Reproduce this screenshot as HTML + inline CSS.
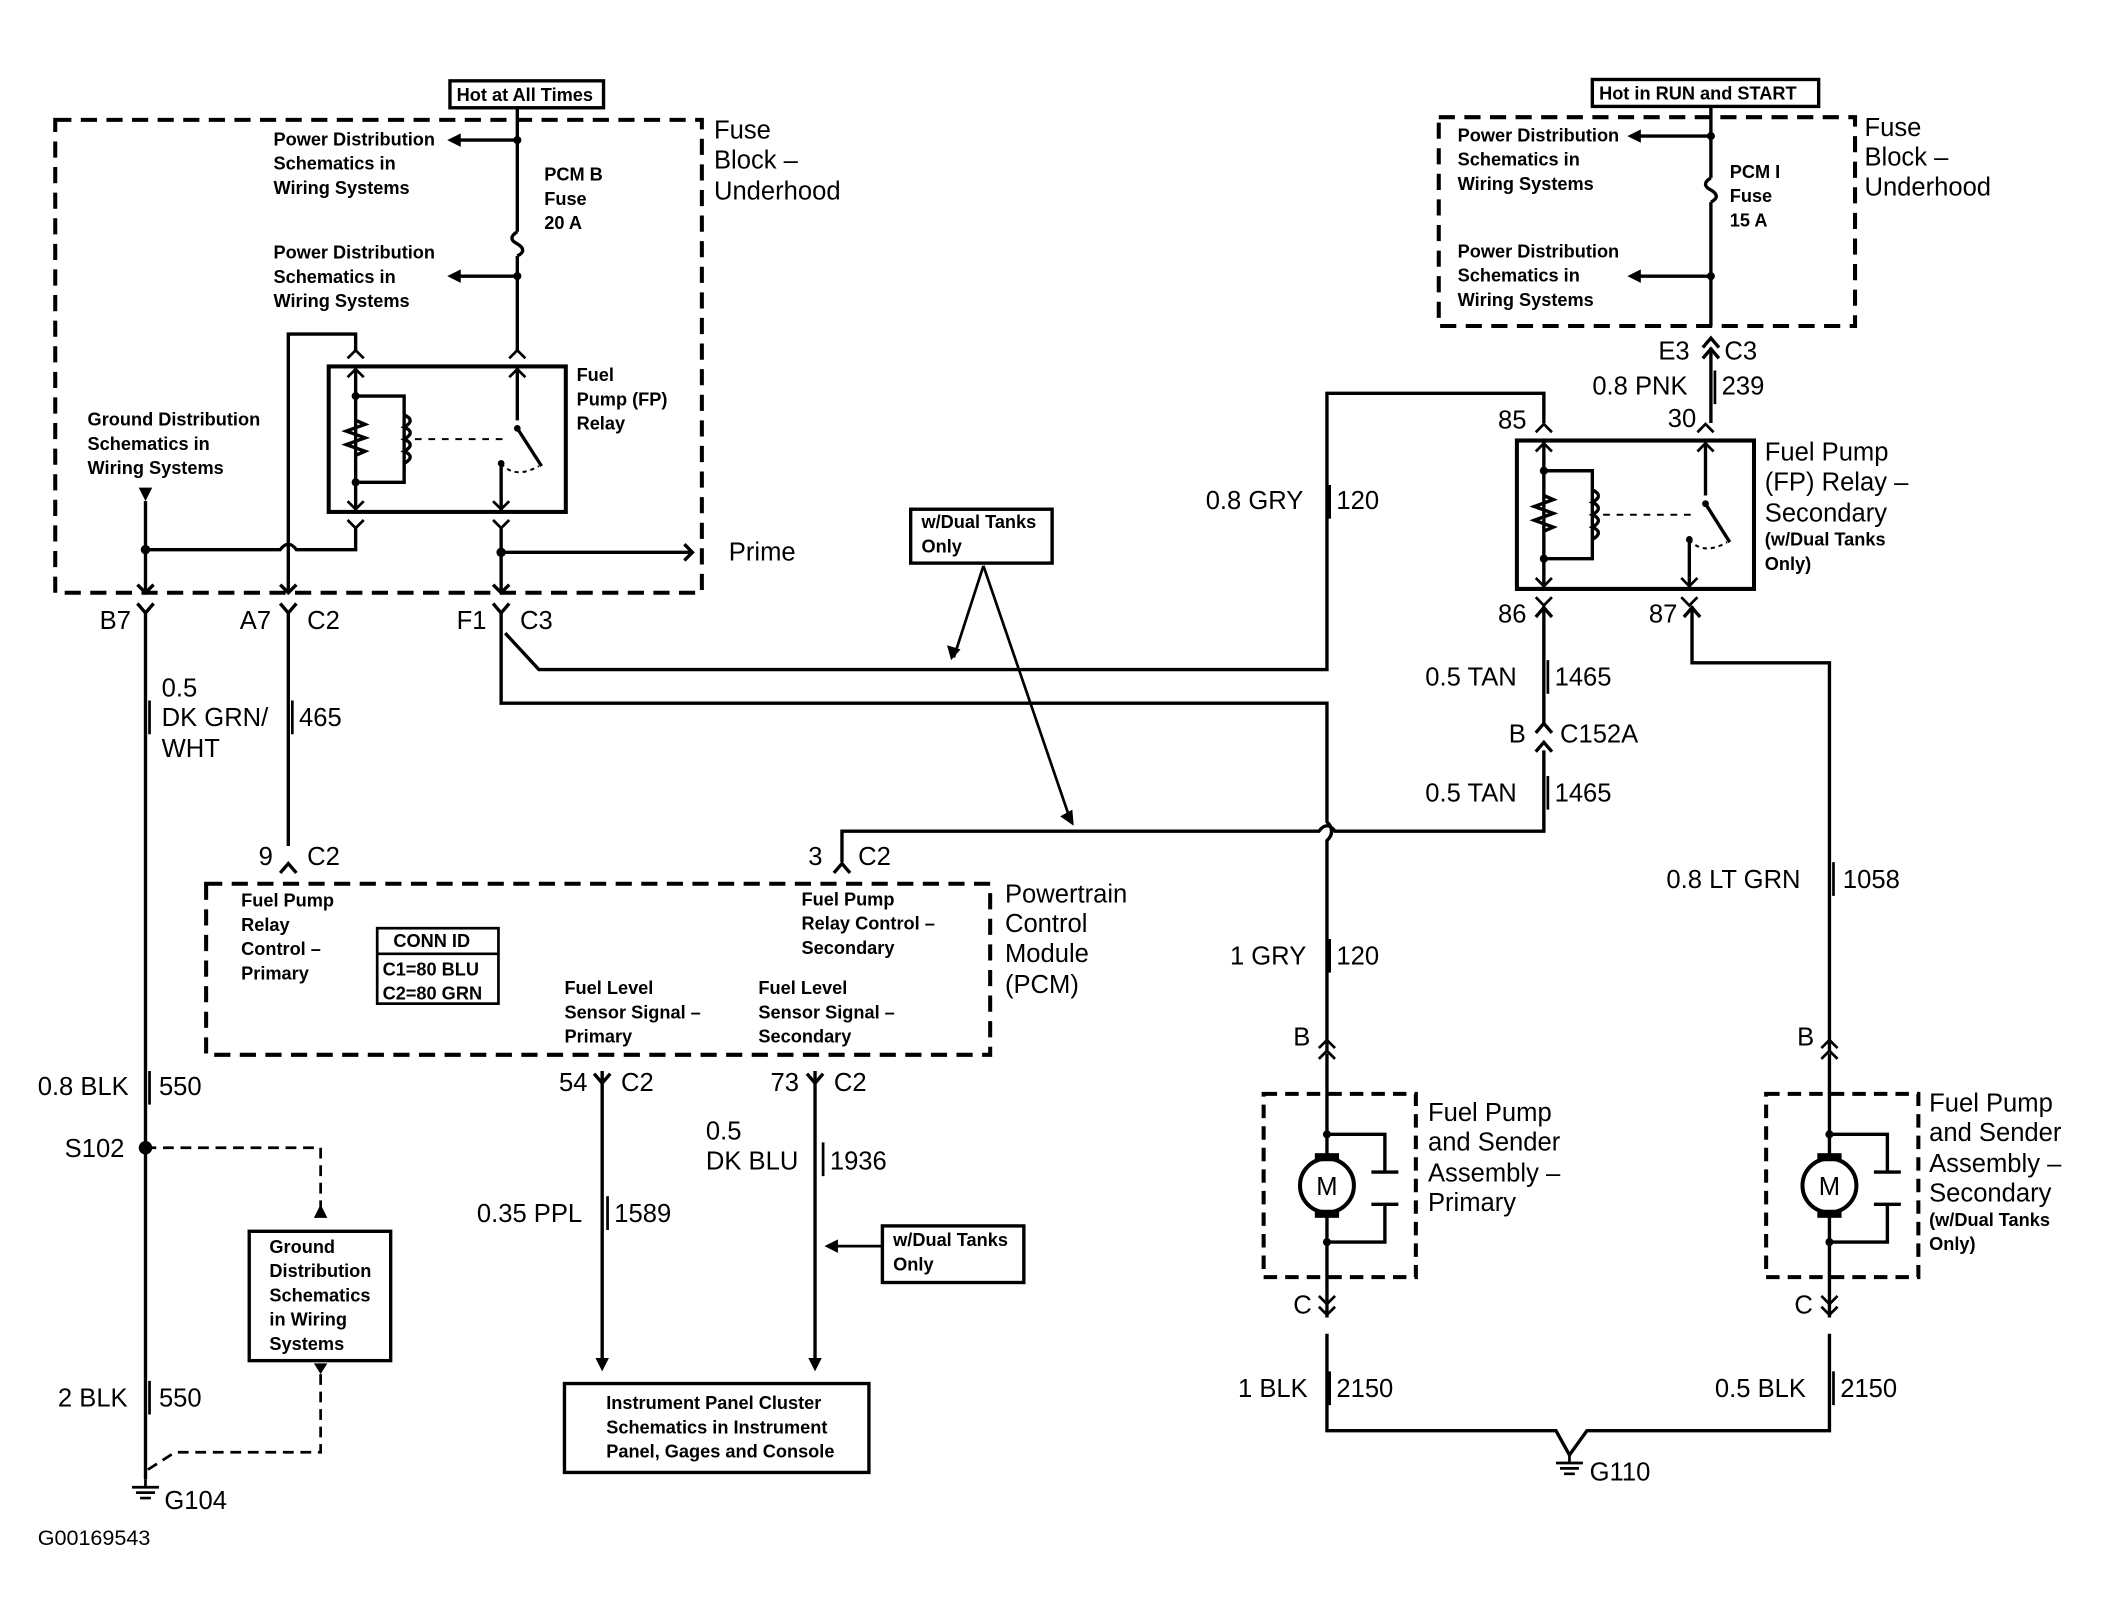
<!DOCTYPE html>
<html><head><meta charset="utf-8"><style>
html,body{margin:0;padding:0;background:#fff;}
svg{display:block;}
text{font-family:"Liberation Sans",Arial,sans-serif;fill:#000;}
.b{font-size:19px;}
.s{font-size:13.5px;font-weight:bold;}
</style></head><body>
<svg width="2111" height="1620" viewBox="0 0 1567 1201" preserveAspectRatio="xMinYMin meet" xmlns="http://www.w3.org/2000/svg">
<defs>
<g id="relay">
<rect x="0" y="0" width="176" height="108" fill="none" stroke="#000" stroke-width="3"/>
<path d="M20 0V108M20 22H56V86H20M140 0V40M128 72V108" fill="none" stroke="#000" stroke-width="2.5"/>
<path d="M20 40L27 43L13 48L27 53L13 58L27 63L20 66" fill="none" stroke="#000" stroke-width="2.5"/>
<path d="M56 36q9 4 0 9q9 4 0 9q9 4 0 9q9 4 0 9" fill="none" stroke="#000" stroke-width="2.5"/>
<path d="M64 54H132" stroke="#000" stroke-width="1.5" stroke-dasharray="5,5"/>
<path d="M140 46L158 74" stroke="#000" stroke-width="2.5"/>
<path d="M128 72q10 12 28 2" fill="none" stroke="#000" stroke-width="1.5" stroke-dasharray="3,3"/>
<circle cx="20" cy="22" r="3"/><circle cx="20" cy="86" r="3"/><circle cx="140" cy="46" r="2.5"/><circle cx="128" cy="72" r="2.5"/>
<path d="M14 8L20 2L26 8M14 -6L20 -12L26 -6M134 8L140 2L146 8M134 -6L140 -12L146 -6M14 100L20 106L26 100M14 114L20 120L26 114M122 100L128 106L134 100M122 114L128 120L134 114" fill="none" stroke="#000" stroke-width="2"/>
</g>
<g id="pump">
<rect x="0" y="0" width="113" height="136" fill="none" stroke="#000" stroke-width="3" stroke-dasharray="10,6"/>
<path d="M47 -30V48M47 88V166M47 30H90V58M47 110H90V82M80 58H100M80 82H100" fill="none" stroke="#000" stroke-width="2.5"/>
<circle cx="47" cy="68" r="20" fill="#fff" stroke="#000" stroke-width="3"/>
<rect x="38" y="44" width="18" height="6"/><rect x="38" y="86" width="18" height="6"/>
<text x="47" y="75" text-anchor="middle" class="b">M</text>
<circle cx="47" cy="30" r="3"/><circle cx="47" cy="110" r="3"/>
<path d="M41 -34L47 -40L53 -34M41 -26L47 -32L53 -26M41 150L47 156L53 150M41 158L47 164L53 158" fill="none" stroke="#000" stroke-width="2"/>
</g>
</defs>
<g fill="none" stroke="#000" stroke-width="2.5">
<rect x="41" y="89" width="480" height="351" stroke-width="3" stroke-dasharray="12,7"/>
<rect x="1068" y="87" width="309" height="155" stroke-width="3" stroke-dasharray="12,7"/>
<rect x="153" y="656" width="582" height="127" stroke-width="3" stroke-dasharray="12,7"/>
<path d="M384 80V172M384 190V260"/>
<path d="M384 172q-8 5 0 9q8 5 0 9"/>
<path d="M384 104H340M384 205H340"/>
<path d="M214 440V248H264V260"/>
<path d="M108 372V440M108 408H208q6-8 12 0H264V392"/>
<path d="M372 392V440M372 410H512"/>
<path d="M108 455V1098"/>
<path d="M214 455V628"/>
<path d="M375 470L400 497H985V292H1146V314"/>
<path d="M372 455V522H985V610q7 7 0 14V780"/>
<path d="M625 640V617H979q6-8 12 0H1146V557"/>
<path d="M1146 450V538"/>
<path d="M1256 450V492H1358V780"/>
<path d="M447 795V1012M605 795V1012"/>
<path d="M1270 79V132M1270 150V242M1270 101H1216M1270 205H1216"/>
<path d="M1270 132q-8 5 0 9q8 5 0 9"/>
<path d="M1270 258V314"/>
<path d="M985 990V1062H1155L1165 1080L1178 1062H1358V990"/>
<rect x="334" y="60" width="114" height="20"/>
<rect x="1182" y="59" width="168" height="20"/>
<rect x="676" y="378" width="105" height="40"/>
<rect x="655" y="910" width="105" height="42"/>
<rect x="185" y="914" width="105" height="96"/>
<rect x="419" y="1027" width="226" height="66"/>
<rect x="280" y="689" width="90" height="56" stroke-width="2"/>
<path d="M280 708H370" stroke-width="2"/>
<path d="M730 420L708 488M730 420L795 610M655 925H614" stroke-width="2"/>
<path d="M108 852H238V900M238 1020V1078H130L108 1092" stroke-width="2" stroke-dasharray="8,5"/>
<path d="M102 448L108 455L114 448M208 448L214 455L220 448M366 448L372 455L378 448M208 648L214 641L220 648M619 648L625 641L631 648M441 797L447 804L453 797M599 797L605 804L611 797M1264 266L1270 259L1276 266M1140 544L1146 537L1152 544M1140 558L1146 551L1152 558M1250 458L1256 451L1262 458M1140 458L1146 451L1152 458M1264 258L1270 251L1276 258"/>
<path d="M102 434L108 440L114 434M208 434L214 440L220 434M366 434L372 440L378 434M508 404L514 410L508 416"/>
</g>
<path d="M103 362H113L108 372Z"/>
<path d="M332 104L342 99V109ZM332 205L342 200V210ZM1208 101L1218 96V106ZM1208 205L1218 200V210ZM447 1018L442 1008H452ZM605 1018L600 1008H610ZM612 925L622 920V930ZM706 490L703 479L713 482ZM797 613L787 606L796 601ZM238 894L233 904H243ZM238 1020L233 1012H243Z"/>
<circle cx="108" cy="852" r="5"/><circle cx="372" cy="410" r="3.5"/><circle cx="108" cy="408" r="3.5"/><circle cx="384" cy="104" r="3"/><circle cx="384" cy="205" r="3"/><circle cx="1270" cy="101" r="3"/><circle cx="1270" cy="205" r="3"/>
<g stroke="#000" stroke-width="2"><path d="M108 1098V1104M98 1104H118M101 1108H115M104 1112H112M1165 1080V1086M1155 1086H1175M1158 1090H1172M1161 1094H1169"/></g>
<use href="#relay" x="244" y="272"/>
<use href="#relay" transform="translate(1126,327) scale(1,1.02)"/>
<use href="#pump" x="938" y="812"/>
<use href="#pump" x="1311" y="812"/>
<g class="s">
<text x="339" y="75">Hot at All Times</text>
<text x="1187" y="74">Hot in RUN and START</text>
<text x="203" y="108">Power Distribution</text><text x="203" y="126">Schematics in</text><text x="203" y="144">Wiring Systems</text>
<text x="203" y="192">Power Distribution</text><text x="203" y="210">Schematics in</text><text x="203" y="228">Wiring Systems</text>
<text x="404" y="134">PCM B</text><text x="404" y="152">Fuse</text><text x="404" y="170">20 A</text>
<text x="428" y="283">Fuel</text><text x="428" y="301">Pump (FP)</text><text x="428" y="319">Relay</text>
<text x="65" y="316">Ground Distribution</text><text x="65" y="334">Schematics in</text><text x="65" y="352">Wiring Systems</text>
<text x="1082" y="105">Power Distribution</text><text x="1082" y="123">Schematics in</text><text x="1082" y="141">Wiring Systems</text>
<text x="1082" y="191">Power Distribution</text><text x="1082" y="209">Schematics in</text><text x="1082" y="227">Wiring Systems</text>
<text x="1284" y="132">PCM I</text><text x="1284" y="150">Fuse</text><text x="1284" y="168">15 A</text>
<text x="684" y="392">w/Dual Tanks</text><text x="684" y="410">Only</text>
<text x="663" y="925">w/Dual Tanks</text><text x="663" y="943">Only</text>
<text x="1310" y="405">(w/Dual Tanks</text><text x="1310" y="423">Only)</text>
<text x="1432" y="910">(w/Dual Tanks</text><text x="1432" y="928">Only)</text>
<text x="179" y="673">Fuel Pump</text><text x="179" y="691">Relay</text><text x="179" y="709">Control –</text><text x="179" y="727">Primary</text>
<text x="595" y="672">Fuel Pump</text><text x="595" y="690">Relay Control –</text><text x="595" y="708">Secondary</text>
<text x="419" y="738">Fuel Level</text><text x="419" y="756">Sensor Signal –</text><text x="419" y="774">Primary</text>
<text x="563" y="738">Fuel Level</text><text x="563" y="756">Sensor Signal –</text><text x="563" y="774">Secondary</text>
<text x="292" y="703">CONN ID</text><text x="284" y="724">C1=80 BLU</text><text x="284" y="742">C2=80 GRN</text>
<text x="200" y="930">Ground</text><text x="200" y="948">Distribution</text><text x="200" y="966">Schematics</text><text x="200" y="984">in Wiring</text><text x="200" y="1002">Systems</text>
<text x="450" y="1046">Instrument Panel Cluster</text><text x="450" y="1064">Schematics in Instrument</text><text x="450" y="1082">Panel, Gages and Console</text>
</g>
<g class="b">
<text x="530" y="103">Fuse</text><text x="530" y="125">Block –</text><text x="530" y="148">Underhood</text>
<text x="1384" y="101">Fuse</text><text x="1384" y="123">Block –</text><text x="1384" y="145">Underhood</text>
<text x="541" y="416">Prime</text>
<text x="74" y="467">B7</text><text x="178" y="467">A7</text><text x="228" y="467">C2</text><text x="339" y="467">F1</text><text x="386" y="467">C3</text>
<text x="120" y="517">0.5</text><text x="120" y="539">DK GRN/</text><text x="120" y="562">WHT</text><text x="222" y="539">465</text>
<text x="192" y="642">9</text><text x="228" y="642">C2</text><text x="600" y="642">3</text><text x="637" y="642">C2</text>
<text x="746" y="670">Powertrain</text><text x="746" y="692">Control</text><text x="746" y="714">Module</text><text x="746" y="737">(PCM)</text>
<text x="415" y="810">54</text><text x="461" y="810">C2</text><text x="572" y="810">73</text><text x="619" y="810">C2</text>
<text x="524" y="846">0.5</text><text x="524" y="868">DK BLU</text><text x="616" y="868">1936</text>
<text x="354" y="907">0.35 PPL</text><text x="456" y="907">1589</text>
<text x="28" y="813">0.8 BLK</text><text x="118" y="813">550</text>
<text x="48" y="859">S102</text>
<text x="43" y="1044">2 BLK</text><text x="118" y="1044">550</text>
<text x="122" y="1120">G104</text>
<text x="28" y="1147" style="font-size:16px">G00169543</text>
<text x="1231" y="267">E3</text><text x="1280" y="267">C3</text>
<text x="1182" y="293">0.8 PNK</text><text x="1278" y="293">239</text>
<text x="1238" y="317">30</text><text x="1112" y="318">85</text>
<text x="1310" y="342">Fuel Pump</text><text x="1310" y="364">(FP) Relay –</text><text x="1310" y="387">Secondary</text>
<text x="895" y="378">0.8 GRY</text><text x="992" y="378">120</text>
<text x="1112" y="462">86</text><text x="1224" y="462">87</text>
<text x="1058" y="509">0.5 TAN</text><text x="1154" y="509">1465</text>
<text x="1120" y="551">B</text><text x="1158" y="551">C152A</text>
<text x="1058" y="595">0.5 TAN</text><text x="1154" y="595">1465</text>
<text x="1237" y="659">0.8 LT GRN</text><text x="1368" y="659">1058</text>
<text x="913" y="716">1 GRY</text><text x="992" y="716">120</text>
<text x="960" y="776">B</text><text x="1334" y="776">B</text>
<text x="1060" y="832">Fuel Pump</text><text x="1060" y="854">and Sender</text><text x="1060" y="877">Assembly –</text><text x="1060" y="899">Primary</text>
<text x="1432" y="825">Fuel Pump</text><text x="1432" y="847">and Sender</text><text x="1432" y="870">Assembly –</text><text x="1432" y="892">Secondary</text>
<text x="960" y="975">C</text><text x="1332" y="975">C</text>
<text x="919" y="1037">1 BLK</text><text x="992" y="1037">2150</text>
<text x="1273" y="1037">0.5 BLK</text><text x="1366" y="1037">2150</text>
<text x="1180" y="1099">G110</text>
</g>
<g stroke="#000" stroke-width="2"><path d="M111 520V545M217 520V545M987 360V385M987 697V722M1149 490V515M1149 576V601M1273 275V300M1361 640V665M451 888V913M611 848V873M111 795V820M111 1025V1050M987 1018V1043M1361 1018V1043"/></g>
</svg>
</body></html>
